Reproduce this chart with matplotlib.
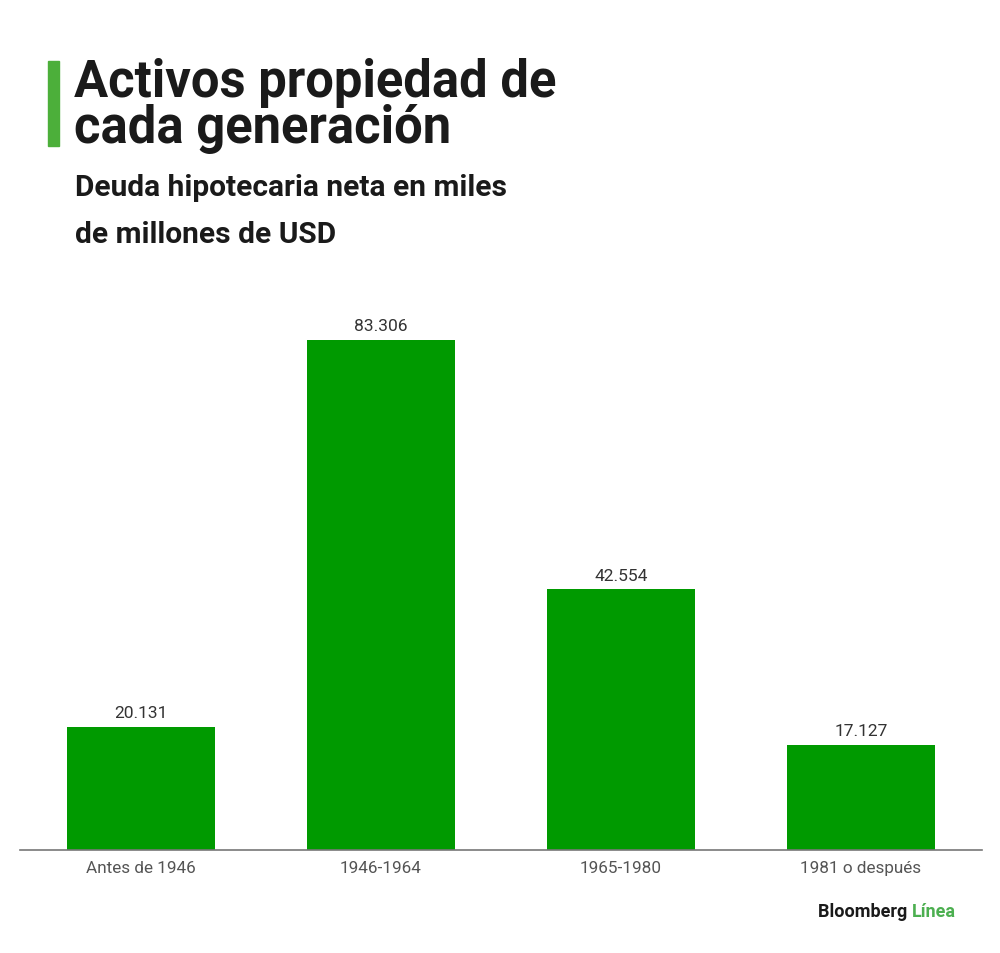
import matplotlib.pyplot as plt
from matplotlib.patches import Rectangle

# data
generations = ['Antes de 1946', '1946-1964', '1965-1980', '1981 o después']
debt = [20.131, 83.306, 42.554, 17.127]
debt_labels = ['20.131', '83.306', '42.554', '17.127']

bar_green = '#009a00'
accent_green = '#4caf3a'

plt.rcParams['font.family'] = ['Roboto', 'DejaVu Sans']

W, H = 1000, 954
fig = plt.figure(figsize=(W / 100, H / 100), dpi=100)


def fx(px):
    return px / W


def fy(py):
    # pixel y measured from the top
    return 1 - py / H


# plot area: baseline at y=851, x from 20 to 982
ax = fig.add_axes([fx(20), fy(851), fx(962), (851 - 320) / H])
x = range(len(generations))
ax.bar(x, debt, width=0.617, color=bar_green, zorder=2)
ax.set_xlim(-0.505, 3.505)
ax.set_ylim(0, 86.74)

for xi, v, lbl in zip(x, debt, debt_labels):
    ax.annotate(lbl, (xi, v), xytext=(0, 5), textcoords='offset points',
                ha='center', va='bottom', fontsize=12.5, color='#333333')

ax.set_xticks(list(x))
ax.set_xticklabels(generations, fontsize=12.3, color='#555555')
ax.tick_params(axis='x', length=0, pad=7)
ax.set_yticks([])
for side in ['top', 'right', 'left']:
    ax.spines[side].set_visible(False)
ax.spines['bottom'].set_color('#777777')
ax.spines['bottom'].set_linewidth(1.2)

# title block
fig.patches.append(Rectangle((fx(48), fy(147)), fx(11), (147 - 62) / H,
                             transform=fig.transFigure, color=accent_green))
fig.text(fx(74), fy(97), 'Activos propiedad de', fontsize=36.5,
         fontweight='bold', color='#1a1a1a', va='baseline', ha='left')
fig.text(fx(74), fy(143), 'cada generación', fontsize=36.5,
         fontweight='bold', color='#1a1a1a', va='baseline', ha='left')
fig.text(fx(75), fy(196), 'Deuda hipotecaria neta en miles', fontsize=21.5,
         fontweight='bold', color='#1a1a1a', va='baseline', ha='left')
fig.text(fx(75), fy(243), 'de millones de USD', fontsize=21.5,
         fontweight='bold', color='#1a1a1a', va='baseline', ha='left')

# logo
t = fig.text(fx(818), fy(917), 'Bloomberg ', fontsize=13, fontweight='bold',
             color='#1a1a1a', va='baseline', ha='left')
fig.canvas.draw()
bb = t.get_window_extent()
fig.text(bb.x1 / W, fy(917), 'Línea', fontsize=13, fontweight='bold',
         color='#4caf50', va='baseline', ha='left')

fig.savefig('out.png', dpi=100, facecolor='white')
